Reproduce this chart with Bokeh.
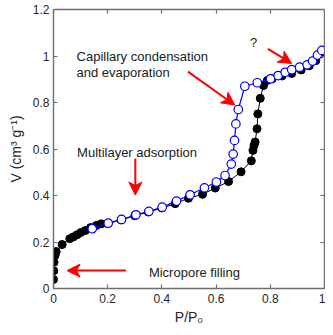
import math
from bokeh.plotting import figure
from bokeh.models import LinearAxis, FixedTicker, Label, Range1d
from bokeh.embed import file_html
from bokeh.resources import INLINE

# Adsorption branch (filled black)
ads_x = [0.000, 0.001, 0.002, 0.006, 0.010, 0.032, 0.060, 0.073, 0.087, 0.101,
         0.117, 0.137, 0.158, 0.176, 0.200, 0.250, 0.300, 0.350, 0.400, 0.449,
         0.498, 0.550, 0.597, 0.646, 0.692, 0.730, 0.736, 0.740, 0.744, 0.751,
         0.754, 0.763, 0.775, 0.789, 0.807, 0.843, 0.879, 0.914, 0.944, 0.968,
         0.986]
ads_y = [0.039, 0.076, 0.113, 0.143, 0.159, 0.189, 0.214, 0.222, 0.231, 0.241,
         0.249, 0.262, 0.271, 0.278, 0.279, 0.295, 0.313, 0.329, 0.346, 0.365,
         0.388, 0.405, 0.432, 0.460, 0.502, 0.549, 0.594, 0.615, 0.630, 0.687,
         0.751, 0.818, 0.873, 0.895, 0.902, 0.914, 0.925, 0.940, 0.958, 0.980,
         1.010]

# Desorption branch (open blue)
des_x = [0.143, 0.202, 0.251, 0.304, 0.352, 0.401, 0.454, 0.504, 0.557, 0.601,
         0.633, 0.656, 0.663, 0.668, 0.673, 0.682, 0.706, 0.752, 0.801, 0.829,
         0.855, 0.879, 0.908, 0.936, 0.956, 0.974, 0.990]
des_y = [0.257, 0.281, 0.297, 0.317, 0.332, 0.350, 0.376, 0.403, 0.433, 0.458,
         0.486, 0.535, 0.578, 0.637, 0.708, 0.770, 0.870, 0.885, 0.902, 0.916,
         0.930, 0.941, 0.952, 0.962, 0.978, 1.004, 1.024]

x_ticks = [0, 0.2, 0.4, 0.6, 0.8, 1]
x_tick_labels = ["0", "0.2", "0.4", "0.6", "0.8", "1"]
y_ticks = [0, 0.2, 0.4, 0.6, 0.8, 1, 1.2]
y_tick_labels = ["0", "0.2", "0.4", "0.6", "0.8", "1", "1.2"]

note_texts = ["Capillary condensation", "and evaporation", "Multilayer adsorption",
              "Micropore filling", "?"]
note_x = [0.085, 0.085, 0.087, 0.352, 0.725]
note_y = [0.996, 0.931, 0.587, 0.067, 1.056]

# arrows: tail -> tip
arrow_tail_x = [0.267, 0.302, 0.496, 0.791]
arrow_tail_y = [0.077, 0.559, 0.933, 1.031]
arrow_tip_x = [0.050, 0.302, 0.669, 0.879]
arrow_tip_y = [0.077, 0.402, 0.789, 0.968]

FONT = "Liberation Sans"
AX = "#6e6e6e"
W_, H_ = 325, 327
BL, BR, BT, BB = 53, 1, 9, 39
FW, FH = W_ - BL - BR, H_ - BT - BB
XR, YR = (0, 1), (0, 1.2)

p = figure(width=W_, height=H_, output_backend="svg", toolbar_location=None,
           x_range=Range1d(*XR), y_range=Range1d(*YR),
           min_border_left=BL, min_border_right=BR, min_border_top=BT, min_border_bottom=BB)
p.xgrid.visible = False
p.ygrid.visible = False
p.outline_line_color = None
p.background_fill_color = "white"

bottom = p.xaxis[0]
left = p.yaxis[0]


def style(ax, ticks, labels, show):
    ax.ticker = FixedTicker(ticks=ticks)
    ax.axis_line_color = AX
    ax.axis_line_width = 1.4
    ax.major_tick_line_color = AX
    ax.major_tick_line_width = 1.2
    ax.major_tick_in = 4
    ax.major_tick_out = 0
    ax.minor_tick_line_color = None
    if show:
        ax.major_label_overrides = dict(zip(ticks, labels))
        ax.major_label_text_font = FONT
        ax.major_label_text_font_size = "12px"
        ax.major_label_text_color = "#262626"
    else:
        ax.major_label_text_color = None
        ax.major_label_text_font_size = "1px"
        ax.major_label_standoff = 0


style(bottom, x_ticks, x_tick_labels, True)
style(left, y_ticks, y_tick_labels, True)
bottom.major_label_standoff = 5
left.major_label_standoff = 4

top = LinearAxis()
style(top, x_ticks, x_tick_labels, False)
p.add_layout(top, "above")
right = LinearAxis()
style(right, y_ticks, y_tick_labels, False)
p.add_layout(right, "right")

bottom.axis_label = "P/P₀"
left.axis_label = "V (cm³ g⁻¹)"
for ax in (bottom, left):
    ax.axis_label_text_font = FONT
    ax.axis_label_text_font_size = "14px"
    ax.axis_label_text_font_style = "normal"
    ax.axis_label_text_color = "#262626"
bottom.axis_label_standoff = 3
left.axis_label_standoff = 6

# data
p.line(ads_x, ads_y, line_color="black", line_width=1)
p.scatter(ads_x, ads_y, size=8, fill_color="black", line_color="black")
p.line(des_x, des_y, line_color="#0000ff", line_width=1.2)
p.scatter(des_x, des_y, size=8.5, fill_color="white", line_color="#0000ff", line_width=1.2)

# annotation texts
for t, x, y in zip(note_texts, note_x, note_y):
    p.add_layout(Label(x=x, y=y, text=t, text_font=FONT, text_font_size="13px",
                       text_color="#1a1a1a", text_baseline="alphabetic", text_align="left"))

# arrows
SX = FW / (XR[1] - XR[0])
SY = FH / (YR[1] - YR[0])
L, W, N = 13.0, 6.5, 3.5
for tx, ty, hx, hy in zip(arrow_tail_x, arrow_tail_y, arrow_tip_x, arrow_tip_y):
    dx, dy = (hx - tx) * SX, (hy - ty) * SY
    n = math.hypot(dx, dy)
    ux, uy = dx / n, dy / n
    px, py = -uy, ux
    pts = [(0, 0), (-L * ux + W * px, -L * uy + W * py), (-(L - N) * ux, -(L - N) * uy),
           (-L * ux - W * px, -L * uy - W * py)]
    xs = [hx + a / SX for a, b in pts]
    ys = [hy + b / SY for a, b in pts]
    ex, ey = hx - (L - N) * ux / SX, hy - (L - N) * uy / SY
    p.line([tx, ex], [ty, ey], line_color="#ff0000", line_width=2)
    p.patch(xs, ys, fill_color="#ff0000", line_color="#ff0000", line_width=1)

open("out.html", "w").write(file_html(p, INLINE))
